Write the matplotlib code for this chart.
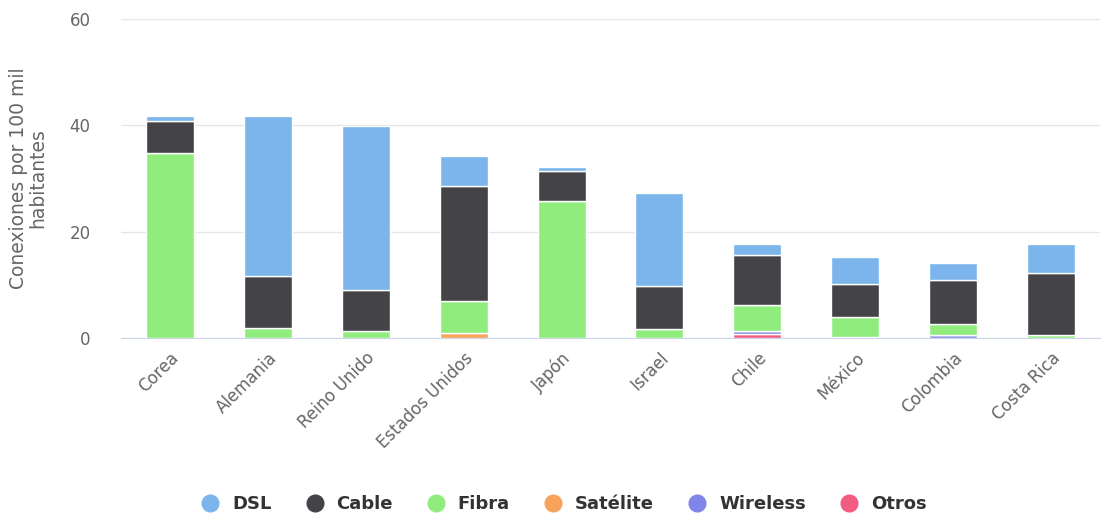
import numpy as np
import matplotlib.pyplot as plt
from matplotlib.lines import Line2D

paises = ["Corea", "Alemania", "Reino Unido", "Estados Unidos", "Japón",
          "Israel", "Chile", "México", "Colombia", "Costa Rica"]

otros = [0, 0, 0, 0, 0, 0, 0.7, 0, 0, 0]
wireless = [0, 0, 0, 0, 0, 0, 0.6, 0.2, 0.6, 0]
satelite = [0, 0, 0, 1.0, 0, 0, 0, 0, 0, 0]
fibra = [34.8, 1.9, 1.3, 6.0, 25.8, 1.7, 4.9, 3.8, 2.0, 0.6]
cable = [6.0, 9.8, 7.7, 21.6, 5.6, 8.1, 9.4, 6.2, 8.3, 11.6]
dsl = [0.9, 30.0, 30.9, 5.6, 0.8, 17.5, 2.1, 5.0, 3.2, 5.5]

series = [("Otros", otros, "#f15c80"),
          ("Wireless", wireless, "#8085e9"),
          ("Satélite", satelite, "#f7a35c"),
          ("Fibra", fibra, "#90ed7d"),
          ("Cable", cable, "#434348"),
          ("DSL", dsl, "#7cb5ec")]

fig = plt.figure(figsize=(11.01, 5.14), dpi=100)
ax = fig.add_axes([121/1101, 1-338/514, (1100-121)/1101, (338-19)/514])

x = np.arange(len(paises))
bottom = np.zeros(len(paises))
for nombre, vals, color in series:
    vals = np.array(vals)
    ax.bar(x, vals, bottom=bottom, width=0.49, color=color,
           edgecolor="white", linewidth=1, zorder=3)
    bottom += vals

ax.set_ylim(0, 60)
ax.set_xlim(-0.5, len(paises) - 0.5)
ax.set_yticks([0, 20, 40, 60])
ax.grid(axis="y", color="#e6e6e6", linewidth=1, zorder=0)
for s in ["top", "right", "left"]:
    ax.spines[s].set_visible(False)
ax.spines["bottom"].set_color("#ccd6eb")
ax.tick_params(axis="y", length=0, labelsize=12, labelcolor="#666666", pad=22)
ax.tick_params(axis="x", length=0, labelsize=12, labelcolor="#666666", pad=8)
ax.set_xticks(x)
ax.set_xticklabels(paises, rotation=45, ha="right", rotation_mode="anchor")
ax.set_ylabel("Conexiones por 100 mil\nhabitantes", fontsize=13.5,
              color="#666666", labelpad=16, linespacing=1.0)

orden = ["DSL", "Cable", "Fibra", "Satélite", "Wireless", "Otros"]
colores = {n: c for n, _, c in series}
handles = [Line2D([], [], marker="o", linestyle="", markersize=12,
                  markerfacecolor=colores[n], markeredgecolor=colores[n])
           for n in orden]
leg = fig.legend(handles, orden, loc="center", bbox_to_anchor=(0.508, 1-504/514),
                 ncol=6, frameon=False, handletextpad=0.2, columnspacing=1.4,
                 prop={"weight": "bold", "size": 13})
for t in leg.get_texts():
    t.set_color("#333333")

fig.savefig("out.png", dpi=100)
